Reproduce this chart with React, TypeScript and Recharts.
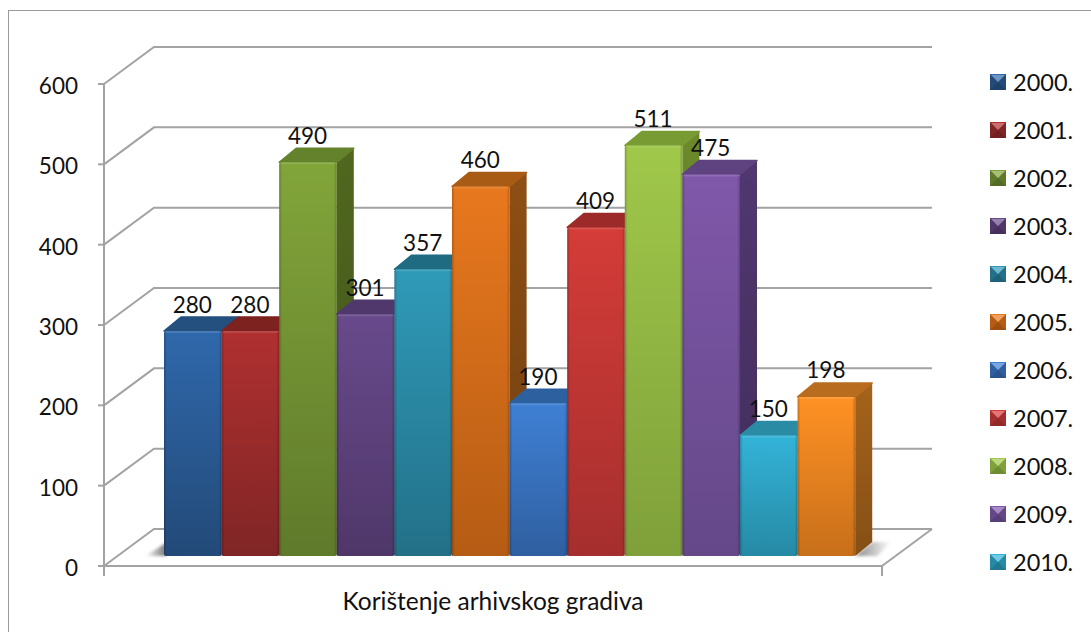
import React from "react";
import {
  BarChart,
  Bar,
  XAxis,
  YAxis,
  CartesianGrid,
  Legend,
  LabelList,
} from "recharts";

const CATEGORY = "Korištenje arhivskog gradiva";
const YEARS = ["2000.", "2001.", "2002.", "2003.", "2004.", "2005.", "2006.", "2007.", "2008.", "2009.", "2010.", "2011."];
const VALUES = [280, 280, 490, 301, 357, 460, 190, 409, 511, 475, 150, 198];
const Y_TICKS = [0, 100, 200, 300, 400, 500, 600];

const TOP_COLORS = ["#2f68ab", "#b03030", "#82a53a", "#684a8c", "#2f9ab8", "#e8781e", "#3f80d4", "#d43c38", "#a0c84a", "#8058aa", "#33b3d8", "#ff9124"];
const BOTTOM_COLORS = ["#234a78", "#802525", "#5f7a2b", "#4f3769", "#237088", "#b55c14", "#2f5fa0", "#a52f2e", "#7fa03a", "#644888", "#268aa5", "#c76f1a"];
const CAP_COLORS = ["#24507f", "#7e2220", "#64812c", "#50386d", "#1f6b82", "#a85b14", "#2c609f", "#9b2a28", "#789b34", "#5f4280", "#2a8ba5", "#b86d1e"];
const SIDE_COLORS = ["#1d3d63", "#6a1f1e", "#50671f", "#432f5c", "#1b5a6c", "#8d4f14", "#254f85", "#862624", "#6c8a2b", "#513770", "#1f7389", "#a5631b"];

const GRID = "#a3a3a3";
const FONT = "Lato, sans-serif";
const FLOOR_Y = 566;

// 3D offsets
const WALL_DX = 50;
const WALL_DY = -37;
const BAR_DX = 17;
const BAR_DY = -14;
const SHIFT_X = 17;
const LIFT = 10;

const data = [
  YEARS.reduce<Record<string, string | number>>(
    (row, y, i) => {
      row[y] = VALUES[i];
      return row;
    },
    { name: CATEGORY }
  ),
];

const gridLine = (p: any) => {
  const { x1, y1, x2 } = p;
  const bx1 = x1 + WALL_DX;
  const bx2 = x2 + WALL_DX;
  const by = y1 + WALL_DY;
  const isFloor = Math.abs(y1 - FLOOR_Y) < 2;
  return (
    <g key={p.key ?? y1} fill="none" stroke={GRID} strokeWidth={2}>
      <polyline points={`${x1},${y1} ${bx1},${by} ${bx2},${by}`} />
      {isFloor && (
        <polyline points={`${bx2},${by} ${x2},${y1} ${x2},${y1 + 10}`} />
      )}
      {isFloor && <line x1={x1} y1={y1} x2={x1} y2={y1 + 10} />}
    </g>
  );
};

const barShape = (i: number) => (p: any) => {
  const x = p.x + SHIFT_X;
  const y = p.y - LIFT;
  const w = p.width;
  const h = p.height;
  const base = y + h;
  const side = `${x + w},${y} ${x + w + BAR_DX},${y + BAR_DY} ${x + w + BAR_DX},${base + BAR_DY} ${x + w},${base}`;
  return (
    <g>
      {i === 0 && (
        <polygon
          points={`${x + 2},${base} ${x - 19},${base} ${x + 2},${base - 13}`}
          fill="url(#shadowLeft)"
          filter="url(#soft)"
        />
      )}
      {i === YEARS.length - 1 && (
        <polygon
          points={`${x + w},${base} ${x + w + BAR_DX},${base + BAR_DY} ${x + w + 36},${base + BAR_DY} ${x + w + 22},${base}`}
          fill="url(#shadowRight)"
          filter="url(#soft)"
        />
      )}
      <polygon points={side} fill={SIDE_COLORS[i]} />
      <polygon points={side} fill="url(#sideShade)" />
      <polygon
        points={`${x},${y} ${x + BAR_DX},${y + BAR_DY} ${x + w + BAR_DX},${y + BAR_DY} ${x + w},${y}`}
        fill={CAP_COLORS[i]}
        stroke={CAP_COLORS[i]}
        strokeWidth={1.5}
        strokeLinejoin="round"
      />
      <rect x={x} y={y} width={w} height={h} rx={2} fill={`url(#front${i})`} />
      <rect x={x} y={y} width={w} height={h} rx={2} fill="url(#edges)" />
      <rect x={x + 1} y={y} width={w - 2} height={2} rx={1} fill="#ffffff" fillOpacity={0.12} />
    </g>
  );
};

const valueLabel = (p: any) => (
  <text
    x={p.x + p.width / 2 + SHIFT_X - 0.5}
    y={p.y - LIFT - 27}
    textAnchor="middle"
    dominantBaseline="central"
    fontFamily={FONT}
    fontSize={22.5}
    fill="#111"
  >
    {p.value}
  </text>
);

const legendContent = (p: any) => (
  <div>
    {(p.payload ?? [])
      .filter((entry: any) => entry.type !== "none")
      .map((entry: any) => {
        const i = YEARS.indexOf(entry.value);
        return (
          <div
            key={entry.value}
            style={{ display: "flex", alignItems: "center", height: 48, fontFamily: FONT, fontSize: 23.5, color: "#111" }}
          >
            <svg width={16} height={16} style={{ marginRight: 7 }}>
              <rect width={16} height={16} fill={BOTTOM_COLORS[i]} />
              <polygon points="0,0 16,0 8,8" fill={TOP_COLORS[i]} />
              <polygon points="1,1 15,1 8,8" fill="#fff" fillOpacity={0.3} />
              <polygon points="0,16 16,16 8,8" fill="#000" fillOpacity={0.12} />
            </svg>
            {entry.value}
          </div>
        );
      })}
  </div>
);

export default function App() {
  return (
    <div style={{ position: "absolute", left: 0, top: 0, width: 1091, height: 632, overflow: "hidden", background: "#fff" }}>
      {/* outer frame runs off the picture on the right and bottom */}
      <div style={{ position: "absolute", left: 8, top: 10, width: 1200, height: 800, border: "1px solid #9a9a9a" }} />
      <div style={{ position: "absolute", left: 0, top: 0 }}>
        <BarChart
          width={1091}
          height={632}
          data={data}
          barGap={0}
          barSize={57.6}
          margin={{ top: 84, right: 108, bottom: 0, left: 0 }}
        >
          <defs>
            {YEARS.map((y, i) => (
              <linearGradient key={y} id={`front${i}`} x1="0" y1="0" x2="0" y2="1">
                <stop offset="0%" stopColor={TOP_COLORS[i]} />
                <stop offset="100%" stopColor={BOTTOM_COLORS[i]} />
              </linearGradient>
            ))}
            <linearGradient id="sideShade" x1="0" y1="0" x2="0" y2="1">
              <stop offset="0%" stopColor="#000" stopOpacity={0} />
              <stop offset="100%" stopColor="#000" stopOpacity={0.2} />
            </linearGradient>
            <linearGradient id="edges" x1="0" y1="0" x2="1" y2="0">
              <stop offset="0%" stopColor="#000" stopOpacity={0.22} />
              <stop offset="5%" stopColor="#000" stopOpacity={0} />
              <stop offset="95%" stopColor="#000" stopOpacity={0} />
              <stop offset="100%" stopColor="#000" stopOpacity={0.22} />
            </linearGradient>
            <linearGradient id="shadowLeft" x1="0" y1="0" x2="1" y2="0">
              <stop offset="0%" stopColor="#555" stopOpacity={0} />
              <stop offset="100%" stopColor="#555" stopOpacity={0.8} />
            </linearGradient>
            <linearGradient id="shadowRight" x1="0" y1="0" x2="1" y2="0">
              <stop offset="0%" stopColor="#555" stopOpacity={0.7} />
              <stop offset="100%" stopColor="#555" stopOpacity={0} />
            </linearGradient>
            <filter id="soft" x="-30%" y="-30%" width="160%" height="160%">
              <feGaussianBlur stdDeviation={1.5} />
            </filter>
          </defs>
          <CartesianGrid vertical={false} horizontal={gridLine} />
          <XAxis
            dataKey="name"
            height={66}
            tickLine={false}
            stroke={GRID}
            strokeWidth={2}
            tick={{ fontFamily: FONT, fontSize: 24.5, fill: "#111" }}
            tickMargin={21}
          />
          <YAxis
            width={104}
            domain={[0, 600]}
            ticks={Y_TICKS}
            stroke={GRID}
            strokeWidth={2}
            tickSize={6}
            tickMargin={20}
            tick={{ fontFamily: FONT, fontSize: 22.5, fill: "#111", dy: 2 }}
          />
          <Legend
            layout="vertical"
            align="right"
            verticalAlign="top"
            width={101}
            content={legendContent}
            wrapperStyle={{ top: 58, right: 0 }}
          />
          {YEARS.map((y, i) => (
            <Bar
              key={y}
              dataKey={y}
              name={y}
              fill={TOP_COLORS[i]}
              isAnimationActive={false}
              legendType={i === YEARS.length - 1 ? "none" : "rect"}
              shape={barShape(i)}
            >
              <LabelList dataKey={y} content={valueLabel} />
            </Bar>
          ))}
        </BarChart>
      </div>
    </div>
  );
}
